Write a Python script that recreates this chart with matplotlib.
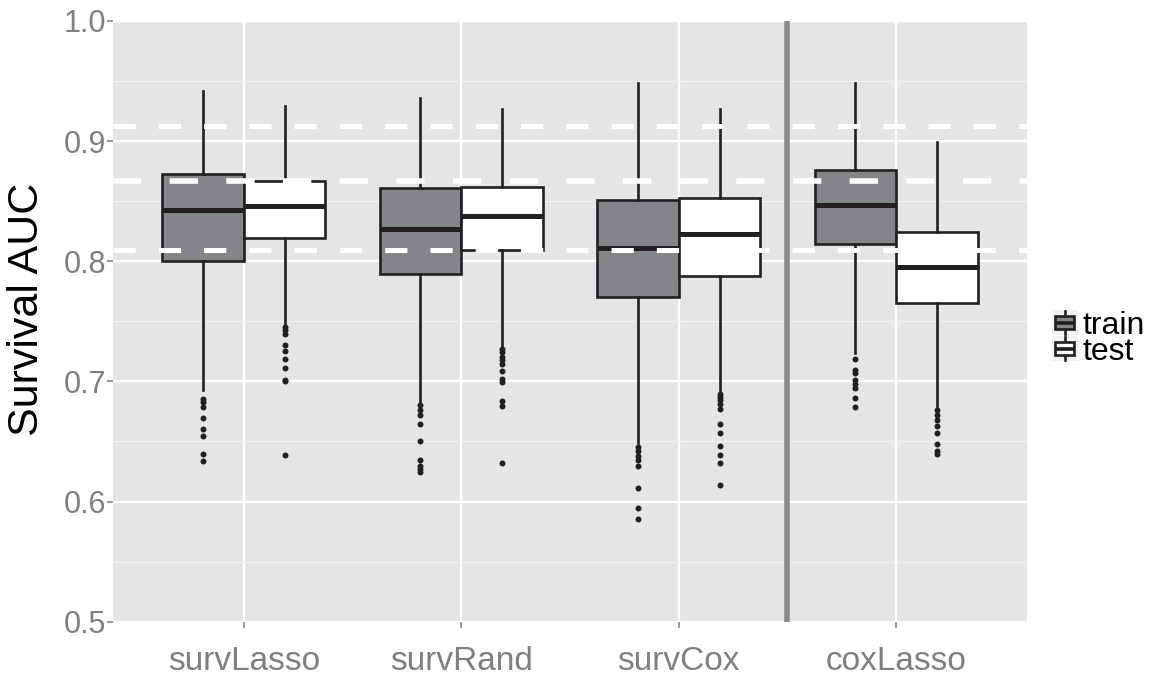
import matplotlib
matplotlib.use("Agg")
import matplotlib.pyplot as plt
from matplotlib.legend_handler import HandlerBase
from matplotlib.patches import Rectangle
from matplotlib.lines import Line2D

# ---------------- data ----------------
categories = ["survLasso", "survRand", "survCox", "coxLasso"]
groups = ["train", "test"]

train_q1 = [0.800, 0.789, 0.770, 0.814]
train_med = [0.843, 0.827, 0.811, 0.847]
train_q3 = [0.873, 0.861, 0.851, 0.876]
train_whislo = [0.693, 0.681, 0.649, 0.724]
train_whishi = [0.942, 0.936, 0.948, 0.948]
train_fliers = [
    [0.6856, 0.6828, 0.6786, 0.6692, 0.6606, 0.6542, 0.6397, 0.6339],
    [0.680, 0.6758, 0.6717, 0.6647, 0.6508, 0.6342, 0.630, 0.6272, 0.6244],
    [0.6453, 0.6419, 0.6383, 0.6347, 0.6292, 0.6111, 0.5947, 0.5856],
    [0.7186, 0.7097, 0.7069, 0.7014, 0.6981, 0.6947, 0.6864, 0.6786],
]

test_q1 = [0.819, 0.809, 0.788, 0.765]
test_med = [0.846, 0.838, 0.823, 0.795]
test_q3 = [0.867, 0.862, 0.853, 0.824]
test_whislo = [0.747, 0.729, 0.691, 0.679]
test_whishi = [0.929, 0.927, 0.927, 0.899]
test_fliers = [
    [0.7453, 0.7425, 0.7397, 0.7306, 0.725, 0.7186, 0.7108, 0.7014, 0.700, 0.6389],
    [0.7272, 0.7244, 0.7203, 0.7175, 0.7147, 0.7083, 0.7022, 0.6994, 0.6836, 0.6792, 0.6319],
    [0.6897, 0.6869, 0.6842, 0.6808, 0.6772, 0.6642, 0.6569, 0.6461, 0.6386, 0.6317, 0.6136],
    [0.6758, 0.6717, 0.6675, 0.6625, 0.6569, 0.6475, 0.6419, 0.6392],
]

ref_lines_short = [0.913, 0.809]
ref_line_long = [0.867]
separator_x = 3.5

y_ticks = [0.5, 0.6, 0.7, 0.8, 0.9, 1.0]
y_tick_labels = ["0.5", "0.6", "0.7", "0.8", "0.9", "1.0"]
y_minor = [0.55, 0.65, 0.75, 0.85, 0.95]

# ---------------- style ----------------
plt.rcParams['font.family'] = ['Liberation Sans', 'DejaVu Sans']
plt.rcParams['lines.scale_dashes'] = False

PANEL = "#E5E5E5"
TRAIN_FILL = "#848589"
TEST_FILL = "#FFFFFF"
INK = "#231F20"
AXIS_GREY = "#7F7F7F"

fig = plt.figure(figsize=(11.58, 6.82), dpi=100)
ax = fig.add_axes([113.3 / 1158, 1 - 621.7 / 682, (1026.7 - 113.3) / 1158, (621.7 - 21) / 682])
ax.set_facecolor(PANEL)
for s in ax.spines.values():
    s.set_visible(False)

ax.set_xlim(0.4, 4.6)
ax.set_ylim(0.5, 1.0)
xpos = list(range(1, len(categories) + 1))
ax.set_xticks(xpos)
ax.set_xticklabels(categories)
ax.set_yticks(y_ticks)
ax.set_yticklabels(y_tick_labels)
ax.set_yticks(y_minor, minor=True)
ax.tick_params(axis='both', which='major', labelcolor=AXIS_GREY,
               color=AXIS_GREY, length=4.3, width=1.1)
ax.tick_params(axis='y', which='major', pad=1, labelsize=22)
ax.tick_params(axis='x', which='major', pad=13, labelsize=24)
ax.tick_params(axis='y', which='minor', length=0)
ax.set_axisbelow(True)
ax.grid(True, which='major', color='white', linewidth=1.7)
ax.grid(True, which='minor', axis='y', color='#F2F2F2', linewidth=0.9)

ax.set_ylabel("Survival AUC", fontsize=31, color='black')
ax.yaxis.set_label_coords(-0.073, 0.52)

width = 0.375
off = width / 2


def make_stats(q1, med, q3, lo, hi, fl):
    return [dict(q1=a, med=b, q3=c, whislo=d, whishi=e, fliers=f)
            for a, b, c, d, e, f in zip(q1, med, q3, lo, hi, fl)]


common = dict(widths=width, patch_artist=True, showcaps=False, manage_ticks=False,
              whiskerprops=dict(color=INK, linewidth=1.9),
              medianprops=dict(color=INK, linewidth=3.6, solid_capstyle='butt'),
              flierprops=dict(marker='o', markerfacecolor=INK, markeredgecolor='none',
                              markersize=4.3))

ax.bxp(make_stats(train_q1, train_med, train_q3, train_whislo, train_whishi, train_fliers),
       positions=[p - off for p in xpos],
       boxprops=dict(facecolor=TRAIN_FILL, edgecolor=INK, linewidth=1.9), **common)
ax.bxp(make_stats(test_q1, test_med, test_q3, test_whislo, test_whishi, test_fliers),
       positions=[p + off for p in xpos],
       boxprops=dict(facecolor=TEST_FILL, edgecolor=INK, linewidth=1.9), **common)

for yv in ref_lines_short:
    ax.axhline(yv, color='white', linewidth=3.6, dashes=(16.0, 16.6),
               dash_capstyle='butt', zorder=5)
for yv in ref_line_long:
    ax.axhline(yv, color='white', linewidth=4.0, dashes=(20.4, 20.4),
               dash_capstyle='butt', zorder=5)
ax.axvline(separator_x, color='#8A8A8A', linewidth=4.0, zorder=6)


# ---------------- legend ----------------
class BoxKeyHandler(HandlerBase):
    def create_artists(self, legend, orig_handle, xdescent, ydescent, width, height,
                       fontsize, trans):
        fill = orig_handle.get_facecolor()
        bg = Rectangle((-xdescent, -ydescent), width, height, facecolor='#F2F2F2',
                       edgecolor='none', transform=trans)
        cx = -xdescent + width / 2
        wl = Line2D([cx, cx], [-ydescent + 0.05 * height, -ydescent + 0.95 * height],
                    color=INK, linewidth=1.9, transform=trans)
        bx = Rectangle((-xdescent + 0.12 * width, -ydescent + 0.25 * height),
                       0.76 * width, 0.5 * height, facecolor=fill, edgecolor=INK,
                       linewidth=1.9, transform=trans)
        md = Line2D([-xdescent + 0.12 * width, -xdescent + 0.88 * width],
                    [-ydescent + 0.5 * height] * 2, color=INK, linewidth=2.6,
                    solid_capstyle='butt', transform=trans)
        return [bg, wl, bx, md]


handles = [Rectangle((0, 0), 1, 1, facecolor=TRAIN_FILL),
           Rectangle((0, 0), 1, 1, facecolor=TEST_FILL)]
leg = fig.legend(handles, groups, loc='upper left',
                 bbox_to_anchor=(1052 / 1158, 1 - 310 / 682),
                 frameon=False, fontsize=23, borderpad=0, borderaxespad=0,
                 handlelength=0.8, handleheight=0.85, handletextpad=0.15,
                 labelspacing=-0.15,
                 handler_map={Rectangle: BoxKeyHandler()})

fig.savefig("out.png", dpi=100)
